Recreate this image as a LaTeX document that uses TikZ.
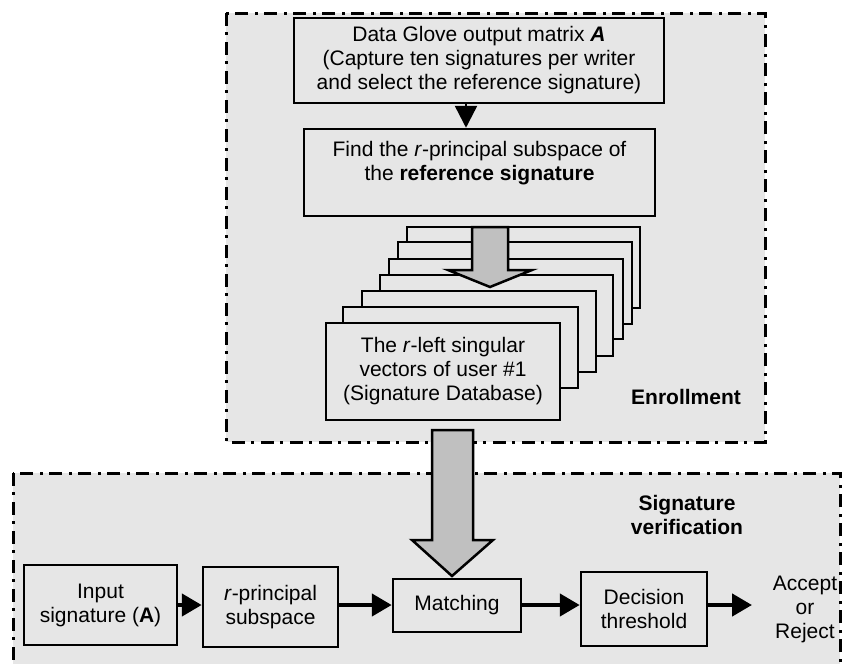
\documentclass[tikz,border=0pt]{standalone}
\usepackage{fontspec}
\setmainfont{Liberation Sans}
\usetikzlibrary{arrows.meta}

\definecolor{panel}{HTML}{E6E6E6}
\definecolor{fatgray}{HTML}{C0C0C0}

\begin{document}
\begin{tikzpicture}[x=1pt, y=-1pt,
    font=\fontsize{21}{24}\selectfont,
    stage/.style={draw, line width=2.5pt, fill=panel, align=center, inner sep=0pt},
    card/.style={draw, line width=2.5pt, fill=panel},
    zone/.style={draw, fill=panel, line width=3pt, dash pattern=on 13pt off 6pt on 3pt off 7pt},
    flow/.style={line width=4.5pt, line cap=round, -{Triangle[length=20pt,width=22pt]}},
    fat/.style={draw, fill=fatgray, line width=2.5pt, line join=miter},
    tag/.style={font=\fontsize{21}{24}\selectfont\bfseries, align=center}]
              \useasboundingbox (0,0) rectangle (844,664);

              % the two stages
              \draw[zone] (226,13) rectangle (765,442);
              \draw[zone] (13,473) rectangle (840,700);

              % enrollment
              \node[stage, minimum width=370pt, minimum height=85pt] (glove) at (479,60.5)
              {Data Glove output matrix \textbf{\textit{A}}\\(Capture ten signatures per writer\\and select the reference signature)};
              \node[stage, minimum width=351pt, minimum height=87pt] (find) at (479.5,172.5)
              {Find the \textit{r}-principal subspace of\\the \textbf{reference signature}\\ \mbox{}};
              \draw[line width=2.5pt, -{Triangle[length=22pt,width=22pt]}]
              ([xshift=-13pt]glove.south) -- ([xshift=-13pt]glove.south |- find.north);

              \foreach \l/\t/\r/\b in {407/227/640/308, 398/242/632/324, 389/259/623/339,
                                       380/275/613/356, 362/291/596/372, 343/307/578/388}
                \draw[card] (\l,\t) rectangle (\r,\b);

              \filldraw[fat] (472,227) -- (508,227) -- (508,270) -- (532,270) -- (490,287)
                             -- (448,270) -- (472,270) -- cycle;

              \node[stage, minimum width=234pt, minimum height=97pt] (db) at (443,371.5)
              {The \textit{r}-left singular\\vectors of user \#1\\(Signature Database)};
              \node[tag] (enroll) at (686,397) {Enrollment};

              % verification
              \node[tag] (verif) at (687,515) {Signature\\verification};
              \coordinate (lane) at (0,605);
              \node[stage, minimum width=153pt, minimum height=80pt] (input) at (100.5,605)
              {Input\\signature (\textbf{A})};
              \node[stage, minimum width=135pt, minimum height=80pt] (rpc) at (270.5,607)
              {\textit{r}-principal\\subspace};
              \node[stage, minimum width=128pt, minimum height=53pt] (match) at (457,605.5) {Matching};
              \node[stage, minimum width=126pt, minimum height=74pt] (decide) at (644,609)
              {Decision\\threshold};
              \node[align=center, inner sep=0pt] (verdict) at (805,609) {Accept\\or\\Reject};
              \coordinate (outtip) at (752,605);

              \filldraw[fat] (432,430) -- (473,430) -- (473,540) -- (493,540) -- (452,576)
                             -- (412,540) -- (432,540) -- cycle;

              \draw[flow] (input.east |- lane) -- (rpc.west |- lane);
              \draw[flow] (rpc.east |- lane) -- (match.west |- lane);
              \draw[flow] (match.east |- lane) -- (decide.west |- lane);
              \draw[flow] (decide.east |- lane) -- (outtip);

          \end{tikzpicture}
\end{document}
